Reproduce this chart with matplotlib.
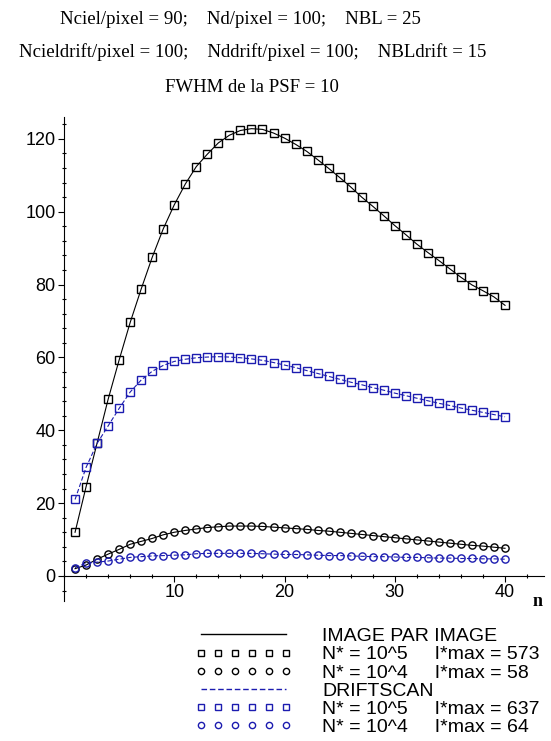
import matplotlib
matplotlib.use('Agg')
import matplotlib.pyplot as plt
from matplotlib.lines import Line2D
from matplotlib.ticker import MultipleLocator

n = list(range(1, 41))

# IMAGE PAR IMAGE, N* = 10^5
img_1e5 = [12.0, 24.5, 36.5, 48.5, 59.3, 69.6, 78.8, 87.5, 95.3, 101.9,
           107.6, 112.4, 115.8, 118.9, 121.0, 122.3, 122.8, 122.6, 121.6, 120.2,
           118.5, 116.6, 114.3, 111.9, 109.4, 106.8, 104.0, 101.5, 98.9, 96.2,
           93.7, 91.1, 88.8, 86.6, 84.3, 82.0, 79.9, 78.3, 76.6, 74.3]
# IMAGE PAR IMAGE, N* = 10^4
img_1e4 = [2.0, 3.0, 4.6, 6.0, 7.3, 8.7, 9.5, 10.3, 11.3, 12.0,
           12.5, 12.9, 13.3, 13.5, 13.7, 13.7, 13.7, 13.6, 13.4, 13.2,
           13.0, 12.8, 12.5, 12.3, 12.0, 11.7, 11.4, 11.1, 10.8, 10.5,
           10.2, 9.9, 9.6, 9.3, 9.0, 8.7, 8.4, 8.2, 7.9, 7.6]
# DRIFTSCAN, N* = 10^5
drift_1e5 = [21.0, 29.8, 36.4, 41.2, 46.0, 50.5, 53.8, 56.2, 57.8, 58.9,
             59.5, 59.9, 60.1, 60.2, 60.1, 59.9, 59.6, 59.2, 58.6, 57.9,
             57.2, 56.4, 55.6, 54.8, 54.0, 53.2, 52.5, 51.7, 51.0, 50.2,
             49.5, 48.8, 48.1, 47.4, 46.8, 46.1, 45.5, 44.9, 44.3, 43.7]
# DRIFTSCAN, N* = 10^4
drift_1e4 = [2.3, 3.5, 3.8, 4.1, 4.6, 5.1, 5.3, 5.5, 5.6, 5.7,
             5.8, 6.1, 6.2, 6.2, 6.2, 6.2, 6.2, 6.1, 6.0, 5.9,
             5.9, 5.8, 5.7, 5.6, 5.6, 5.5, 5.4, 5.3, 5.3, 5.2,
             5.1, 5.1, 5.0, 4.9, 4.9, 4.8, 4.8, 4.7, 4.7, 4.6]

labels = ['IMAGE PAR IMAGE',
          'N* = 10^5     I*max = 573',
          'N* = 10^4     I*max = 58',
          'DRIFTSCAN',
          'N* = 10^5     I*max = 637',
          'N* = 10^4     I*max = 64']

title_lines = ['Nciel/pixel = 90;    Nd/pixel = 100;    NBL = 25',
               'Ncieldrift/pixel = 100;    Nddrift/pixel = 100;    NBLdrift = 15',
               'FWHM de la PSF = 10']

black = 'black'
blue = '#1c1cb0'

fig = plt.figure(figsize=(5.51, 7.41), dpi=100)
ax = fig.add_axes([0.1162, 0.1883, 0.8704, 0.6538])

mk = dict(markersize=5.2, markerfacecolor='none', markeredgewidth=1.0)
ax.plot(n, img_1e5, color=black, lw=0.8, marker='s', **mk)
ax.plot(n, img_1e4, color=black, lw=0.8, marker='o', **mk)
ax.plot(n, drift_1e5, color=blue, lw=0.8, ls=(0, (4, 2)), marker='s', **mk)
ax.plot(n, drift_1e4, color=blue, lw=0.8, ls=(0, (4, 2)), marker='o', **mk)

ax.set_xlim(0, 43.5)
ax.set_ylim(-7, 126)
for s in ['top', 'right']:
    ax.spines[s].set_visible(False)
ax.spines['bottom'].set_position(('data', 0))
ax.spines['left'].set_position(('data', 0))
ax.spines['bottom'].set_bounds(0, 43.5)

ax.xaxis.set_major_locator(MultipleLocator(10))
ax.xaxis.set_minor_locator(MultipleLocator(2))
ax.yaxis.set_major_locator(MultipleLocator(20))
ax.yaxis.set_minor_locator(MultipleLocator(4))
ax.set_xticks([10, 20, 30, 40])
ax.tick_params(which='major', length=4, width=0.8, direction='out', pad=2,
               labelsize=13, labelfontfamily='Liberation Sans')
ax.tick_params(which='minor', length=3, width=0.8, direction='inout')

fig.text(0.975, 0.188, 'n', fontsize=13, fontweight='bold',
         family='Liberation Serif', ha='center', va='center')

for i, t in enumerate(title_lines):
    fig.text([0.437, 0.458, 0.458][i], [0.974, 0.930, 0.882][i], t,
             fontsize=13.5, family='Liberation Serif', ha='center', va='center')

handles = [Line2D([], [], color=black, lw=1.0),
           Line2D([], [], color=black, ls='none', marker='s', markersize=4.5,
                  markerfacecolor='none', markeredgewidth=1.0),
           Line2D([], [], color=black, ls='none', marker='o', markersize=4.5,
                  markerfacecolor='none', markeredgewidth=1.0),
           Line2D([], [], color=blue, lw=1.0, ls=(0, (4, 2))),
           Line2D([], [], color=blue, ls='none', marker='s', markersize=4.5,
                  markerfacecolor='none', markeredgewidth=1.0),
           Line2D([], [], color=blue, ls='none', marker='o', markersize=4.5,
                  markerfacecolor='none', markeredgewidth=1.0)]
fig.legend(handles, labels, loc='upper left', bbox_to_anchor=(0.354, 0.153),
           frameon=False, numpoints=6, handlelength=5.0, handletextpad=1.55,
           labelspacing=0.03, borderpad=0, borderaxespad=0,
           prop={'family': 'Liberation Sans', 'size': 14})

fig.savefig('out.png', dpi=100)
